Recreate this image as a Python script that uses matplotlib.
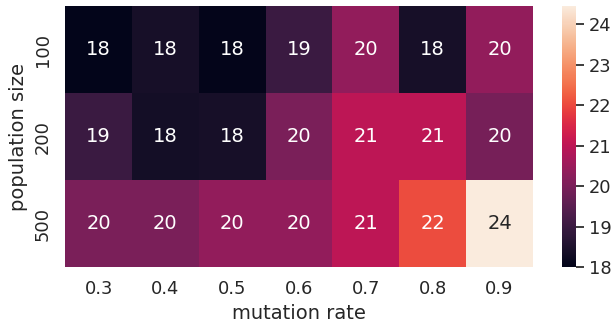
import numpy as np
import pandas as pd
import matplotlib
matplotlib.use("Agg")
import matplotlib.pyplot as plt
import seaborn as sns

sns.set_theme(font_scale=1.17)

# Mean fitness for each (population size, mutation rate) combination
mutation_rates = [0.3, 0.4, 0.5, 0.6, 0.7, 0.8, 0.9]
population_sizes = [100, 200, 500]
scores_100 = [18.0, 18.4, 18.05, 19.0, 20.35, 18.4, 20.35]
scores_200 = [19.0, 18.35, 18.4, 20.0, 21.0, 21.0, 19.95]
scores_500 = [20.0, 20.0, 20.35, 20.35, 21.0, 22.05, 24.45]

df = pd.DataFrame([scores_100, scores_200, scores_500],
                  index=population_sizes, columns=mutation_rates)

fig = plt.figure(figsize=(6.14, 3.25), dpi=100)
ax = fig.add_axes([0.106, 0.178, 0.762, 0.803])
cax = fig.add_axes([0.915, 0.178, 0.023, 0.803])

sns.heatmap(df, annot=True, fmt=".0f", ax=ax, cbar_ax=cax)
ax.set_xlabel("mutation rate")
ax.set_ylabel("population size")

plt.savefig("out.png", dpi=100)
